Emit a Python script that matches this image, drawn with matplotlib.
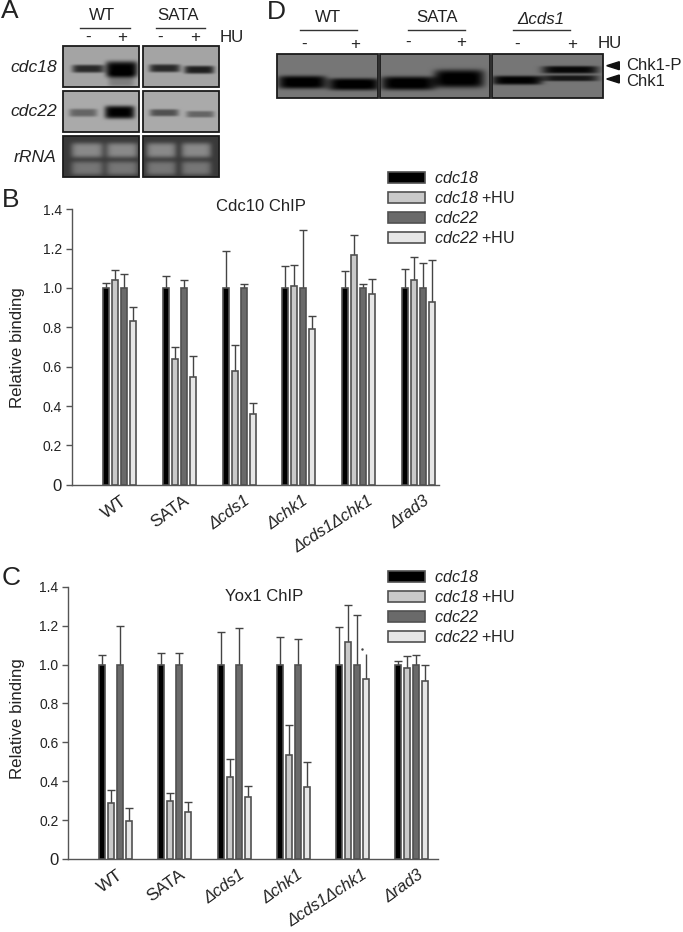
import numpy as np
import matplotlib
matplotlib.use('Agg')
import matplotlib.pyplot as plt
from matplotlib.patches import Rectangle, Polygon
from matplotlib.transforms import ScaledTranslation

plt.rcParams['font.family'] = ['Liberation Sans', 'DejaVu Sans']
plt.rcParams['mathtext.fontset'] = 'custom'
plt.rcParams['mathtext.rm'] = 'Liberation Sans'
plt.rcParams['mathtext.sf'] = 'Liberation Sans:italic'  # \mathit would set the digits upright

W, H = 683, 932

strains = ['WT', 'SATA', 'Δcds1', 'Δchk1', 'Δcds1Δchk1', 'Δrad3']
series = [r'$\mathsf{cdc18}$', r'$\mathsf{cdc18}$ +HU', r'$\mathsf{cdc22}$', r'$\mathsf{cdc22}$ +HU']
colors = ['#000000', '#c9c9c9', '#6a6a6a', '#e6e6e6']

# panel B, bar tops and tops of the error bars
b_val = [[1.0, 1.0, 1.0, 1.0, 1.0, 1.0],
         [1.04, 0.637, 0.58, 1.008, 1.169, 1.04],
         [1.0, 1.0, 1.0, 1.0, 1.0, 1.0],
         [0.83, 0.546, 0.358, 0.79, 0.971, 0.93]]
b_top = [[1.027, 1.06, 1.19, 1.113, 1.086, 1.098],
         [1.09, 0.70, 0.708, 1.118, 1.27, 1.16],
         [1.07, 1.04, 1.022, 1.295, 1.022, 1.125],
         [0.905, 0.652, 0.417, 0.856, 1.044, 1.14]]

# panel C
c_val = [[1.0, 1.0, 1.0, 1.0, 1.0, 1.0],
         [0.286, 0.30, 0.42, 0.536, 1.117, 0.981],
         [1.0, 1.0, 1.0, 1.0, 1.0, 1.0],
         [0.194, 0.243, 0.317, 0.372, 0.928, 0.916]]
c_top = [[1.05, 1.057, 1.168, 1.14, 1.192, 1.019],
         [0.353, 0.341, 0.516, 0.69, 1.307, 1.045],
         [1.2, 1.057, 1.19, 1.132, 1.252, 1.051],
         [0.26, 0.291, 0.377, 0.497, 1.055, 0.998]]
c_no_cap = [(3, 4)]  # this error bar has lost its cap in the figure

yticks = [0, 0.2, 0.4, 0.6, 0.8, 1.0, 1.2, 1.4]
ytick_labels = ['0', '0.2', '0.4', '0.6', '0.8', '1.0', '1.2', '1.4']
label_dx = [1, 4, 5, 3, 9, 5]  # px, sideways nudge of the slanted strain names

# blots: box (x0, x1, y0, y1), grey background, bands (x, y, half width, half height, darkness)
# negative darkness = bright band, as on the rRNA gel
blots = [
    ((63, 139, 46, 87), 165, [(88, 68.5, 16, 4, 125), (121.5, 69, 16, 8, 165), (121, 80, 13, 7, 40)]),
    ((143, 219, 46, 87), 165, [(164.5, 68, 15.5, 4, 125), (199, 69.5, 15, 4, 135)]),
    ((63, 139, 91, 132), 170, [(83, 112.5, 14, 4, 70), (119.5, 112, 15, 6.5, 170)]),
    ((143, 219, 91, 132), 170, [(164, 112.5, 14.5, 3.6, 90), (200, 114, 14, 3.3, 70)]),
    ((63, 139, 136, 177), 58, [(87, 150, 16, 7.5, -80), (87, 168, 16, 7, -60),
                               (122, 150, 16, 7.5, -80), (122, 168, 16, 7, -60)]),
    ((143, 219, 136, 177), 58, [(161, 150, 15, 7.5, -80), (161, 168, 15, 7, -60),
                                (196, 150, 15, 7.5, -80), (196, 168, 15, 7, -60)]),
    ((277, 378, 54, 98), 118, [(302, 82, 24, 6.5, 122), (354, 84, 26, 6, 122)]),
    ((380, 490, 54, 98), 118, [(408, 83, 27, 6.8, 122), (459, 78.5, 25, 9, 122)]),
    ((492, 603, 54, 98), 118, [(517, 80, 25, 4.5, 118), (570, 69.5, 28, 3.8, 112), (570, 78, 28, 3, 95)]),
]


def draw_blot(ax, box, bg, bands):
    x0, x1, y0, y1 = box
    xs = np.arange(x0, x1, 0.5)
    ys = np.arange(y0, y1, 0.5)
    gx, gy = np.meshgrid(xs, ys)
    img = np.full(gx.shape, float(bg))
    for cx, cy, hw, hh, dark in bands:
        img -= dark * np.exp(-((gx - cx) / hw) ** 6) * np.exp(-((gy - cy) / hh) ** 4)
    ax.imshow(img, extent=(x0, x1, y1, y0), cmap='gray', vmin=0, vmax=255, aspect='auto', zorder=1)
    ax.add_patch(Rectangle((x0, y0), x1 - x0, y1 - y0, fill=False, ec='#1a1a1a', lw=1.3, zorder=2))


def px_axes(left, right, top, bottom):
    return fig.add_axes([left / W, 1 - bottom / H, (right - left) / W, (bottom - top) / H])


def bar_panel(ax, vals, tops, first, step, legend_y, no_cap=()):
    left, right = ax.get_position().x0 * W, ax.get_position().x1 * W
    x = np.arange(len(strains))
    off = 9 / step
    handles = []
    for i in range(4):
        xs = x + (i - 1.5) * off
        bars = ax.bar(xs, vals[i], width=6 / step, color=colors[i], edgecolor='#505050', linewidth=1.2, zorder=3)
        handles.append(bars[0])
        for j in range(len(strains)):
            eb = ax.errorbar(xs[j], vals[i][j], yerr=[[0], [tops[i][j] - vals[i][j]]], color='#444444',
                             elinewidth=1, capsize=3, capthick=1, zorder=2)
            eb[1][0].set_visible(False)
            if (i, j) in no_cap:
                eb[1][1].set_visible(False)
    ax.set_xlim((left - first) / step, (right - first) / step)
    ax.set_ylim(0, 1.4)
    ax.set_yticks(yticks)
    ax.set_yticklabels(ytick_labels, fontsize=10, color='#222222')
    ax.get_yticklabels()[0].set_fontsize(12)
    ax.set_xticks(x)
    ax.set_xticklabels(strains, rotation=36, ha='right', va='top', rotation_mode='anchor',
                       fontsize=12.6, color='#222222')
    # tick_params with pad resets the label transforms, so it has to come before the nudge
    ax.tick_params(axis='x', length=0, pad=6)
    ax.tick_params(axis='y', length=4, width=1, color='#555555', pad=3)
    for lab, dx in zip(ax.get_xticklabels(), label_dx):
        if lab.get_text().startswith('Δ'):
            lab.set_fontstyle('italic')
            lab.set_fontsize(12)
        if len(lab.get_text()) > 6:
            lab.set_rotation(33)
            lab.set_fontsize(11.8)
        lab.set_transform(lab.get_transform() + ScaledTranslation(dx / 100, 0, fig.dpi_scale_trans))
    for s in ['top', 'right']:
        ax.spines[s].set_visible(False)
    for s in ['left', 'bottom']:
        ax.spines[s].set_color('#555555')
        ax.spines[s].set_linewidth(1)
    ax.patch.set_alpha(0)
    ax.set_ylabel('Relative binding', fontsize=12.2, color='#222222', va='center')
    ax.legend(handles, series, loc='upper left', bbox_to_anchor=(388 / W, 1 - legend_y / H),
              bbox_transform=fig.transFigure, frameon=False, fontsize=11.6, borderpad=0, borderaxespad=0,
              handlelength=2.3, handleheight=0.68, handletextpad=0.55, labelspacing=0.25, labelcolor='#222222')


fig = plt.figure(figsize=(W / 100, H / 100), dpi=100)

# full figure layer in pixels, for blots and free text
bg = fig.add_axes([0, 0, 1, 1])
for box, grey, bands in blots:
    draw_blot(bg, box, grey, bands)
bg.set_xlim(0, W)
bg.set_ylim(H, 0)
bg.axis('off')


def label(x, y, s, size=12.2, ha='center', **kw):
    bg.text(x, y, s, fontsize=size, ha=ha, va='center', color='#222222', **kw)


for x, y, s in [(1, 11, 'A'), (2, 200, 'B'), (2, 578, 'C'), (267, 12, 'D')]:
    label(x, y, s, size=19, ha='left')

# panel A headers
label(101.7, 16, 'WT')
label(178.3, 16, 'SATA')
bg.plot([80, 130], [28, 28], color='#333333', lw=1)
bg.plot([155.7, 205], [28, 28], color='#333333', lw=1)
for x, s in [(88, '-'), (122, '+'), (160, '-'), (195, '+')]:
    label(x, 37.5, s)
label(220, 37.7, 'HU', ha='left')
for y, s in [(67, 'cdc18'), (112, 'cdc22'), (157, 'rRNA')]:
    label(56.7, y, s, ha='right', style='italic', size=12.6)

# panel D headers
label(327.7, 17.3, 'WT')
label(436.7, 17.3, 'SATA')
label(541, 19, 'Δcds1', style='italic')
for x0, x1 in [(300, 356.7), (408.3, 465), (513, 570)]:
    bg.plot([x0, x1], [30.3, 30.3], color='#333333', lw=1)
for x, y, s in [(304.3, 44, '-'), (355, 44, '+'), (407.7, 42.7, '-'), (461, 43, '+'), (517.3, 44, '-'), (572.3, 44, '+')]:
    label(x, y, s)
label(597.7, 44, 'HU', ha='left')
for y in [65.7, 79]:
    bg.add_patch(Polygon([[606.7, y], [619.3, y - 4], [619.3, y + 4]], color='#111111'))
label(626, 66, 'Chk1-P', ha='left', size=12)
label(626, 81.7, 'Chk1', ha='left', size=12)

# panel B
ax_b = px_axes(71.7, 439, 209.3, 484.7)
bar_panel(ax_b, b_val, b_top, 119.5, 59.8, 170)
ax_b.yaxis.set_label_coords(17.3 / W, 1 - 348 / H, transform=fig.transFigure)
label(261, 206.7, 'Cdc10 ChIP', size=12)

# panel C
ax_c = px_axes(68.3, 438, 586.7, 859)
bar_panel(ax_c, c_val, c_top, 115.7, 59.2, 569, no_cap=c_no_cap)
ax_c.yaxis.set_label_coords(17.3 / W, 1 - 719 / H, transform=fig.transFigure)
label(264, 596.7, 'Yox1 ChIP', size=12)
bg.plot([361.7], [649], marker='.', ms=1.5, color='#444444')

fig.savefig('out.png', dpi=100)
